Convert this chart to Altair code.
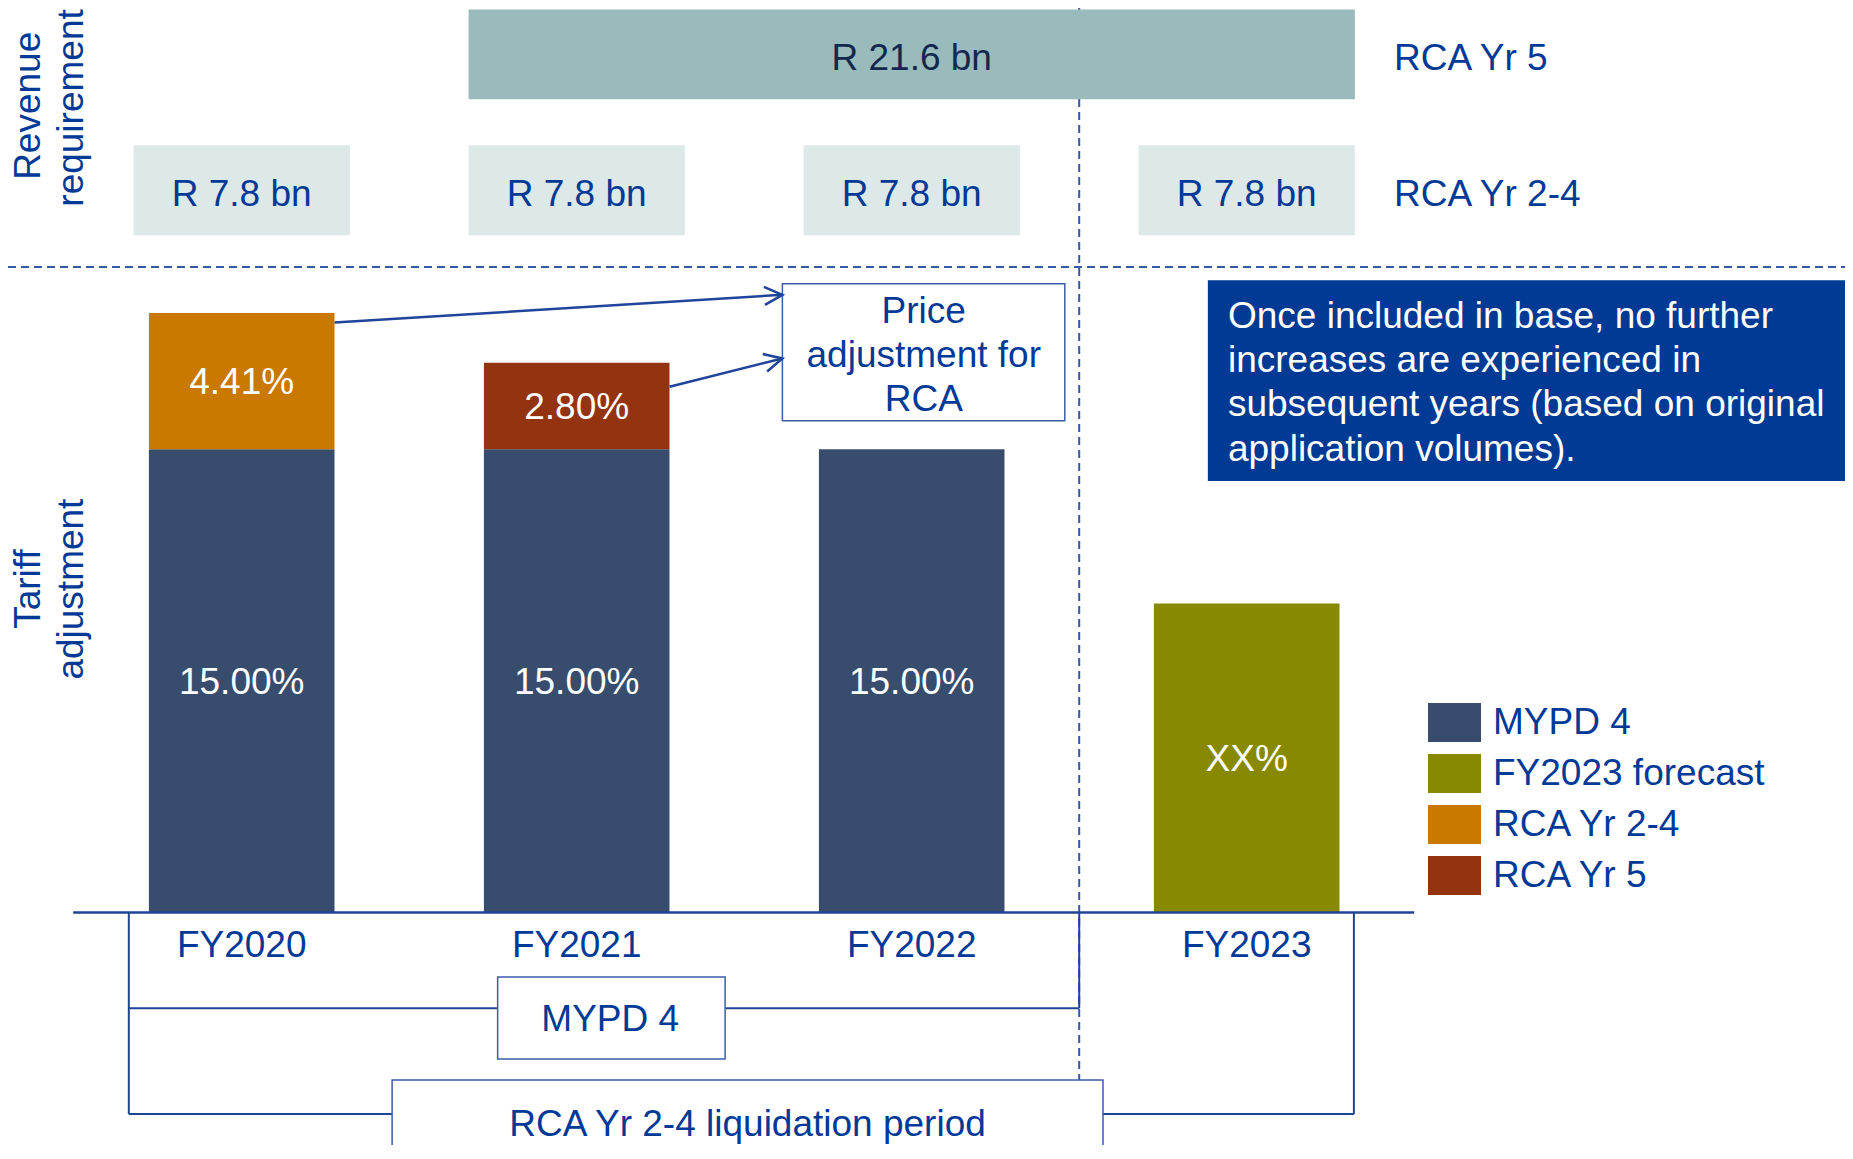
import math
import altair as alt
import pandas as pd

# ---------------- data ----------------
years = ["FY2020", "FY2021", "FY2022", "FY2023"]
series_names = ["MYPD 4", "FY2023 forecast", "RCA Yr 2-4", "RCA Yr 5"]
series_colors = ["#384D6D", "#878900", "#C97800", "#94330F"]
mypd4 = [15.00, 15.00, 15.00, None]
fy2023_forecast = [None, None, None, 10.0]      # shown as "XX%"
rca_yr24 = [4.41, None, None, None]
rca_yr5 = [None, 2.80, None, None]
forecast_label = "XX%"

rev_yr24_bn = [7.8, 7.8, 7.8, 7.8]               # RCA Yr 2-4, one per year
rev_yr5_bn = 21.6                                # RCA Yr 5, spans FY2021-FY2023
rev_yr5_span = ["FY2021", "FY2023"]
rev_row_labels = ["RCA Yr 5", "RCA Yr 2-4"]

price_box_lines = ["Price", "adjustment for", "RCA"]
note_lines = ["Once included in base, no further",
              "increases are experienced in",
              "subsequent years (based on original",
              "application volumes)."]

# ---------------- layout / style ----------------
FONT = "Liberation Sans"
BLUE = "#003996"
LINE = "#1F4499"
DASH = "#3558A6"
FS = 37
DY = 2
W, H = 1837, 1137
PX0 = 241.7 - 8          # plot px of the first category centre
PXU = 335.0              # px per category step
PY0 = 912.4 - 8          # plot px of 0 %
PYU = 30.88              # px per 1 %
XMIN, XMAX = -PX0 / PXU, (W - PX0) / PXU
YMAX, YMIN = PY0 / PYU, (PY0 - H) / PYU
xs = alt.Scale(domain=[XMIN, XMAX], nice=False, zero=False)
ys = alt.Scale(domain=[YMIN, YMAX], nice=False, zero=False)

BAR_HALF = 0.277
BOX_HALF = 0.3228
DIVIDER = 2.5            # between FY2022 and FY2023


def X(f="x"):
    return alt.X(f"{f}:Q", scale=xs, axis=None)


def Y(f="y"):
    return alt.Y(f"{f}:Q", scale=ys, axis=None)


def text_layer(df, color=BLUE, align="center", size=FS, angle=0, dy=DY):
    return alt.Chart(df).mark_text(font=FONT, fontSize=size, color=color, align=align,
                                   baseline="middle", angle=angle, dy=dy).encode(
        x=X(), y=Y(), text="t:N")


# ---------------- bars ----------------
rows = []
for i, yr in enumerate(years):
    base = 0.0
    for name, vals in zip(series_names, [mypd4, fy2023_forecast, rca_yr24, rca_yr5]):
        v = vals[i]
        if v is None:
            continue
        lab = forecast_label if name == "FY2023 forecast" else f"{v:.2f}%"
        rows.append(dict(year=yr, series=name, x=i - BAR_HALF, x2=i + BAR_HALF,
                         y=base, y2=base + v, cx=i, cy=base + v / 2, t=lab))
        base += v
bars_df = pd.DataFrame(rows)

bars = alt.Chart(bars_df).mark_rect().encode(
    x=X(), x2="x2:Q", y=Y(), y2="y2:Q",
    color=alt.Color("series:N",
                    scale=alt.Scale(domain=series_names, range=series_colors),
                    legend=alt.Legend(title=None, orient="none", legendX=1420, legendY=688,
                                      symbolType="M-1,-0.74L1,-0.74L1,0.74L-1,0.74Z",
                                      symbolSize=2809, symbolStrokeWidth=0, symbolOpacity=1,
                                      labelFontSize=FS, labelColor=BLUE, labelFont=FONT,
                                      labelOffset=12, rowPadding=4, padding=0,
                                      labelLimit=600)))
bar_labels = alt.Chart(bars_df).mark_text(font=FONT, fontSize=FS, color="white",
                                          baseline="middle", dy=DY).encode(
    x=X("cx"), y=Y("cy"), text="t:N")

# ---------------- revenue requirement ----------------
REV24_Y, REV24_Y2 = 21.93, 24.84
REV5_Y, REV5_Y2 = 26.33, 29.24
rev24_df = pd.DataFrame(dict(x=[i - BOX_HALF for i in range(4)],
                             x2=[i + BOX_HALF for i in range(4)],
                             y=[REV24_Y] * 4, y2=[REV24_Y2] * 4,
                             cx=list(range(4)), cy=[(REV24_Y + REV24_Y2) / 2] * 4,
                             t=[f"R {v} bn" for v in rev_yr24_bn]))
i0, i1 = years.index(rev_yr5_span[0]), years.index(rev_yr5_span[1])
rev5_df = pd.DataFrame(dict(x=[i0 - BOX_HALF], x2=[i1 + BOX_HALF], y=[REV5_Y], y2=[REV5_Y2],
                            cx=[(i0 + i1) / 2], cy=[(REV5_Y + REV5_Y2) / 2],
                            t=[f"R {rev_yr5_bn} bn"]))
rev24 = alt.Chart(rev24_df).mark_rect(color="#DDE8E8").encode(x=X(), x2="x2:Q", y=Y(), y2="y2:Q")
rev5 = alt.Chart(rev5_df).mark_rect(color="#99BBBB").encode(x=X(), x2="x2:Q", y=Y(), y2="y2:Q")
rev24_t = alt.Chart(rev24_df).mark_text(font=FONT, fontSize=FS, color=BLUE, baseline="middle",
                                        dy=5).encode(x=X("cx"), y=Y("cy"), text="t:N")
rev5_t = alt.Chart(rev5_df).mark_text(font=FONT, fontSize=FS, color="#13284F", baseline="middle",
                                      dy=5).encode(x=X("cx"), y=Y("cy"), text="t:N")
rowlab = text_layer(pd.DataFrame(dict(x=[3.44, 3.44],
                                      y=[(REV5_Y + REV5_Y2) / 2, (REV24_Y + REV24_Y2) / 2],
                                      t=rev_row_labels)), align="left", dy=5)

# ---------------- dashed dividers ----------------
hdash = alt.Chart(pd.DataFrame(dict(x=[XMIN], x2=[XMAX], y=[20.9]))).mark_rule(
    color=DASH, strokeWidth=2, strokeDash=[8, 5]).encode(x=X(), x2="x2:Q", y=Y())
vdash = alt.Chart(pd.DataFrame(dict(x=[DIVIDER], y=[YMAX], y2=[YMIN]))).mark_rule(
    color=DASH, strokeWidth=2, strokeDash=[8, 5]).encode(x=X(), y=Y(), y2="y2:Q")

# ---------------- baseline + category labels ----------------
baseline = alt.Chart(pd.DataFrame(dict(x=[-0.503], x2=[3.5], y=[0.0]))).mark_rule(
    color=LINE, strokeWidth=2.5).encode(x=X(), x2="x2:Q", y=Y())
cats = text_layer(pd.DataFrame(dict(x=list(range(4)), y=[-1.03] * 4, t=years)))

# ---------------- brackets ----------------
BL, BR = -0.337, 3.32
MY, RY = -3.1, -6.53
seg_df = pd.DataFrame([
    dict(x=BL, y=0, x2=BL, y2=RY),
    dict(x=BL, y=MY, x2=DIVIDER, y2=MY),
    dict(x=DIVIDER, y=0, x2=DIVIDER, y2=MY),
    dict(x=BL, y=RY, x2=BR, y2=RY),
    dict(x=BR, y=0, x2=BR, y2=RY),
])
segs = alt.Chart(seg_df).mark_rule(color=LINE, strokeWidth=2).encode(
    x=X(), y=Y(), x2="x2:Q", y2="y2:Q")

boxes_df = pd.DataFrame([
    dict(x=0.764, x2=1.443, y=-4.75, y2=-2.09),
    dict(x=0.449, x2=2.571, y=YMIN - 3, y2=-5.43),
    dict(x=1.614, x2=2.457, y=15.92, y2=20.36),
])
wboxes = alt.Chart(boxes_df).mark_rect(fill="white", stroke="#3A5DAA", strokeWidth=1.5,
                                       clip=True).encode(x=X(), x2="x2:Q", y=Y(), y2="y2:Q")
box_text = text_layer(pd.DataFrame(dict(
    x=[1.10, 1.51] + [2.036] * 3,
    y=[-3.42, -6.81] + [19.52 - 1.435 * k for k in range(3)],
    t=["MYPD 4", "RCA Yr 2-4 liquidation period"] + price_box_lines)))

# ---------------- arrows ----------------
arr_df = pd.DataFrame([
    dict(x=BAR_HALF, y=19.10, x2=1.614, y2=20.0),
    dict(x=1 + BAR_HALF, y=17.02, x2=1.614, y2=17.94),
])
arr_df["ang"] = [math.degrees(math.atan2(-(r.y2 - r.y) * PYU, (r.x2 - r.x) * PXU)) % 360
                 for r in arr_df.itertuples()]
arrows = alt.Chart(arr_df).mark_rule(color=LINE, strokeWidth=2.5).encode(
    x=X(), y=Y(), x2="x2:Q", y2="y2:Q")
heads = alt.Chart(arr_df).mark_point(shape="M-2,-1L0,0L-2,1", filled=False, size=324,
                                     color=LINE, strokeWidth=2.5, opacity=1).encode(
    x=X("x2"), y=Y("y2"), angle=alt.Angle("ang:Q", scale=None))

# ---------------- note box ----------------
note_box = alt.Chart(pd.DataFrame(dict(x=[2.884], x2=[XMAX + 1], y=[13.97], y2=[20.47]))).mark_rect(
    color="#003A95", clip=True).encode(x=X(), x2="x2:Q", y=Y(), y2="y2:Q")
note_text = text_layer(pd.DataFrame(dict(x=[2.944] * 4,
                                         y=[19.36 - 1.44 * k for k in range(4)],
                                         t=note_lines)), color="white", align="left")

# ---------------- side titles ----------------
titles = text_layer(pd.DataFrame(dict(
    x=[-0.636, -0.507, -0.636, -0.507],
    y=[26.12, 26.05, 10.47, 10.47],
    t=["Revenue", "requirement", "Tariff", "adjustment"])), angle=270, dy=0)

chart = alt.layer(
    hdash, vdash, rev24, rev5, rev24_t, rev5_t, rowlab,
    bars, bar_labels, baseline, cats, segs, wboxes, box_text,
    arrows, heads, note_box, note_text, titles
).properties(
    width=W, height=H, padding=0,
    autosize=alt.AutoSizeParams(type="none")
).configure_view(stroke=None)

chart.save("out.html", embed_options={"renderer": "svg", "actions": False})
